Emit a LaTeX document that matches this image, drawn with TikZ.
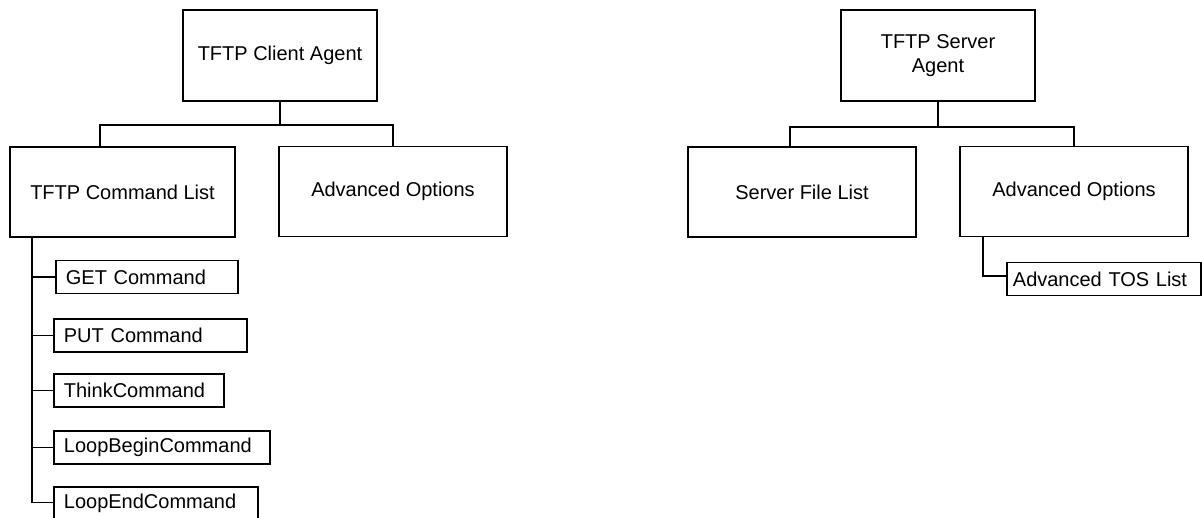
\documentclass[tikz,border=0pt]{standalone}
\usepackage{fontspec}
\setmainfont{Liberation Sans}
\usetikzlibrary{positioning,calc}

\begin{document}
\begin{tikzpicture}[x=1pt, y=-1pt, font=\fontsize{20}{24}\selectfont,
  topbox/.style={draw, line width=1.8pt, align=center, minimum width=194pt, minimum height=91pt, inner sep=4pt},
  midbox/.style={draw, line width=1.8pt, align=center, minimum width=228pt, minimum height=90pt},
  subbox/.style={draw, line width=1.8pt, anchor=west, align=left, minimum height=33pt, inner xsep=10pt, inner ysep=2pt},
  link/.style={line width=1.8pt}]
\clip (0,0) rectangle (1202,518);
% client agent tree
\node[topbox] (client) at (280,55.5) {TFTP Client Agent};
\node[midbox, minimum width=225pt] (cmd) at (122.5,192) {TFTP Command List};
\node[midbox] (advc) at (393,191.5) {Advanced Options};
\node[subbox, text width=162pt] (get) at (55,277) {GET Command};
\node[subbox, text width=173pt] (put) at (53,335.5) {PUT Command};
\node[subbox, text width=150pt] (think) at (53,390.5) {ThinkCommand};
\node[subbox, text width=196pt] (loopb) at (53,447.5) {LoopBeginCommand};
\node[subbox, text width=184pt] (loope) at (53,503.5) {LoopEndCommand};
\draw[link] (client.south) -- ++(0,23) coordinate (cj);
\draw[link] ([xshift=-22.5pt]cmd.north) |- (cj) -| (advc.north);
\coordinate (spine) at ([xshift=23pt]cmd.south west);
\draw[link] (spine) |- ([yshift=1pt]loope.west);
\foreach \n in {get,put,think,loopb}
  \draw[link] (spine |- \n.west) -- (\n.west);
% server agent tree
\node[topbox] (server) at (938,55.5) {TFTP Server\\Agent};
\node[midbox] (files) at (802,192) {Server File List};
\node[midbox] (advs) at (1074,191.5) {Advanced Options};
\node[subbox, inner xsep=6pt, text width=182pt] (tos) at (1006,279) {Advanced TOS List};
\draw[link] (server.south) -- ++(0,25) coordinate (sj);
\draw[link] ([xshift=-12pt]files.north) |- (sj) -| (advs.north);
\draw[link] ([xshift=24pt]advs.south west) |- ([yshift=3pt]tos.west);
\end{tikzpicture}
\end{document}
